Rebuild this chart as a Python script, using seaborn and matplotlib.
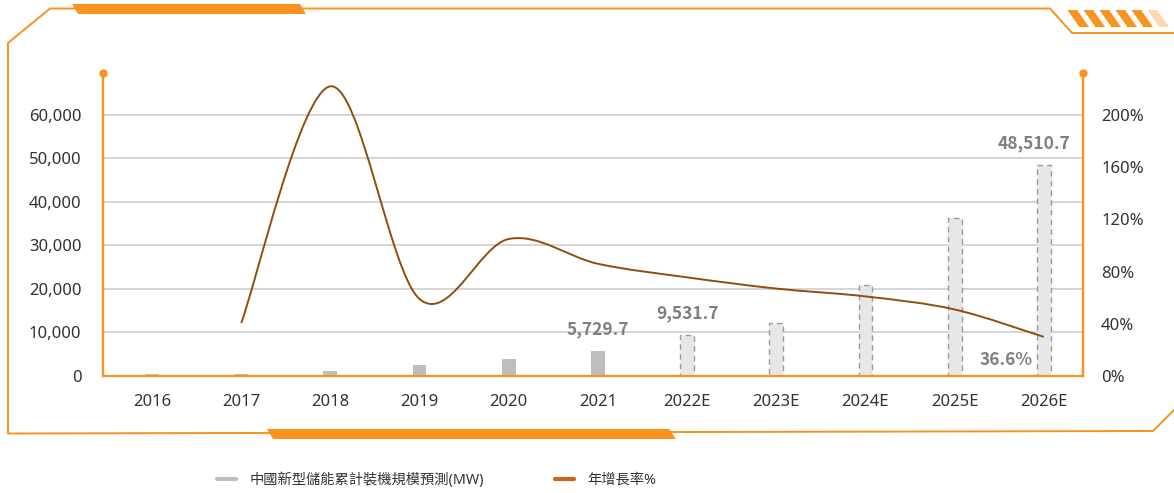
import numpy as np
import pandas as pd
import matplotlib
matplotlib.use("Agg")
import matplotlib.pyplot as plt
import seaborn as sns
from matplotlib.path import Path
from matplotlib.patches import PathPatch, Polygon
from matplotlib.lines import Line2D

# ---------------- data ----------------
years = ['2016', '2017', '2018', '2019', '2020', '2021',
         '2022E', '2023E', '2024E', '2025E', '2026E']
capacity_mw = [450, 450, 1220, 2600, 3900, 5729.7,
               9531.7, 12100, 20850, 36250, 48510.7]
growth_pct = [np.nan, 40.6, 222.0, 59.0, 105.0, 86.0,
              75.6, 67.0, 61.0, 51.0, 30.0]
is_estimate = [False, False, False, False, False, False,
               True, True, True, True, True]
labelled_bars = ['2021', '2022E', '2026E']
growth_label_value = 36.6
left_ticks = [0, 10000, 20000, 30000, 40000, 50000, 60000]
right_ticks = [0, 40, 80, 120, 160, 200]
legend_labels = ['中國新型儲能累計裝機規模預測(MW)', '年增長率%']

df = pd.DataFrame({'year': years, 'mw': capacity_mw,
                   'growth': growth_pct, 'est': is_estimate})

# ---------------- style ----------------
sns.set_theme(style='white')
plt.rcParams['font.family'] = ['Noto Sans', 'Noto Sans CJK TC', 'DejaVu Sans']
BOLD_FAMILY = ['Noto Sans CJK TC', 'DejaVu Sans']

ORANGE = '#F7931E'
LINE = '#914D0C'
LEG_LINE = '#C4661B'
BAR_HIST = '#BDBEC0'
BAR_EST = '#E6E7E8'
EDGE_EST = '#9A9A9A'
TXT = '#333333'
LBL = '#7F7F7F'

W, H = 1174, 493
fig = plt.figure(figsize=(W / 100, H / 100), dpi=100)


def fx(x):
    return x / W


def fy(y):
    return 1 - y / H


ax_l, ax_r, ax_t, ax_b = 103, 1083, 73, 376
ax = fig.add_axes([fx(ax_l), fy(ax_b), (ax_r - ax_l) / W, (ax_b - ax_t) / H])

sns.barplot(data=df, x='year', y='mw', order=years, ax=ax,
            width=0.155, color=BAR_HIST, saturation=1, zorder=2)
for patch, est in zip(ax.patches, is_estimate):
    if est:
        patch.set_facecolor(BAR_EST)
        patch.set_edgecolor(EDGE_EST)
        patch.set_linestyle((0, (4, 3)))
        patch.set_linewidth(1.0)
    else:
        patch.set_edgecolor('none')

ax.set_xlim(-0.55, 10.44)
ax.set_ylim(0, 69650)
ax.set_yticks(left_ticks)
ax.set_yticklabels([f'{t:,}' for t in left_ticks])
ax.set_xlabel('')
ax.set_ylabel('')
ax.yaxis.grid(True, color='#D2D2D2', linewidth=1.3, zorder=0)
ax.set_axisbelow(True)
ax.tick_params(axis='y', length=0, pad=15.5, labelsize=12, labelcolor=TXT)
ax.tick_params(axis='x', length=0, pad=13, labelsize=12, labelcolor=TXT)
for s in ['top', 'right']:
    ax.spines[s].set_visible(False)
for s in ['left', 'bottom']:
    ax.spines[s].set_color(ORANGE)
    ax.spines[s].set_linewidth(1.6)
    ax.spines[s].set_zorder(5)

# bar value labels
for i, (yr, v) in enumerate(zip(years, capacity_mw)):
    if yr in labelled_bars:
        dx = -7 if yr == years[-1] else 0
        ax.annotate(f'{v:,.1f}', xy=(i, v), xytext=(dx, 9),
                    textcoords='offset points', ha='center', va='bottom',
                    fontsize=12.5, fontweight='bold', color=LBL, zorder=6,
                    family=BOLD_FAMILY)

# ---------------- growth line (right axis) ----------------
ax2 = ax.twinx()
ax2.set_ylim(0, 232.2)
ax2.set_yticks(right_ticks)
ax2.set_yticklabels([f'{t}%' for t in right_ticks])
ax2.tick_params(axis='y', length=0, pad=13, labelsize=12, labelcolor=TXT)
ax2.grid(False)
for s in ['top', 'left', 'bottom']:
    ax2.spines[s].set_visible(False)
ax2.spines['right'].set_color(ORANGE)
ax2.spines['right'].set_linewidth(1.6)

pts = [(i, g) for i, g in enumerate(growth_pct) if not np.isnan(g)]
P = np.array(pts, dtype=float)
verts = [tuple(P[0])]
codes = [Path.MOVETO]
n = len(P)
for k in range(n - 1):
    p0 = P[k - 1] if k > 0 else P[k]
    p1 = P[k]
    p2 = P[k + 1]
    p3 = P[k + 2] if k + 2 < n else P[k + 1]
    c1 = p1 + (p2 - p0) / 6.0
    c2 = p2 - (p3 - p1) / 6.0
    verts += [tuple(c1), tuple(c2), tuple(p2)]
    codes += [Path.CURVE4, Path.CURVE4, Path.CURVE4]
ax2.add_patch(PathPatch(Path(verts, codes), facecolor='none',
                        edgecolor=LINE, linewidth=1.4, zorder=4))

ax2.annotate(f'{growth_label_value}%', xy=(P[-1][0], P[-1][1]),
             xytext=(-8, -17), textcoords='offset points',
             ha='right', va='center', fontsize=12.5, fontweight='bold',
             color=LBL, family=BOLD_FAMILY)

# axis end dots
for xa in (0, 1):
    ax.plot([xa], [1], transform=ax.transAxes, marker='o', ms=5,
            color=ORANGE, clip_on=False, zorder=6)
    ax.plot([xa, xa], [0, 1], transform=ax.transAxes, color=ORANGE,
            lw=1.6, clip_on=False, zorder=6)

# ---------------- legend ----------------
handles = [Line2D([], [], color=BAR_HIST, lw=3),
           Line2D([], [], color=LEG_LINE, lw=3)]
fig.legend(handles, legend_labels, loc='center left', ncol=2,
           bbox_to_anchor=(fx(217), fy(480)), frameon=False, borderpad=0,
           borderaxespad=0, fontsize=10.3, handlelength=1.3,
           handletextpad=0.95, columnspacing=5.0, labelcolor=TXT)

# ---------------- frame decoration ----------------
frame = [(1174, 33), (1072, 33), (1050, 8.5), (50, 8.5), (8, 43),
         (8, 433.5), (1153, 431), (1174, 410)]
fig.add_artist(Line2D([fx(p[0]) for p in frame], [fy(p[1]) for p in frame],
                      color=ORANGE, lw=1.4, transform=fig.transFigure))


def poly(points, alpha=1.0):
    fig.add_artist(Polygon([(fx(x), fy(y)) for x, y in points], closed=True,
                           facecolor=ORANGE, edgecolor='none', alpha=alpha,
                           transform=fig.transFigure))


poly([(72, 4), (300, 4), (306, 14), (78, 14)])
poly([(267, 429), (669, 429), (676, 439), (273, 439)])
stripe_alpha = [1, 1, 1, 1, 1, 0.35]
for k, a in enumerate(stripe_alpha):
    x0 = 1067.5 + 16 * k
    poly([(x0, 10), (x0 + 9.5, 10), (x0 + 21.5, 27), (x0 + 12, 27)], alpha=a)

fig.savefig('out.png', dpi=100)
